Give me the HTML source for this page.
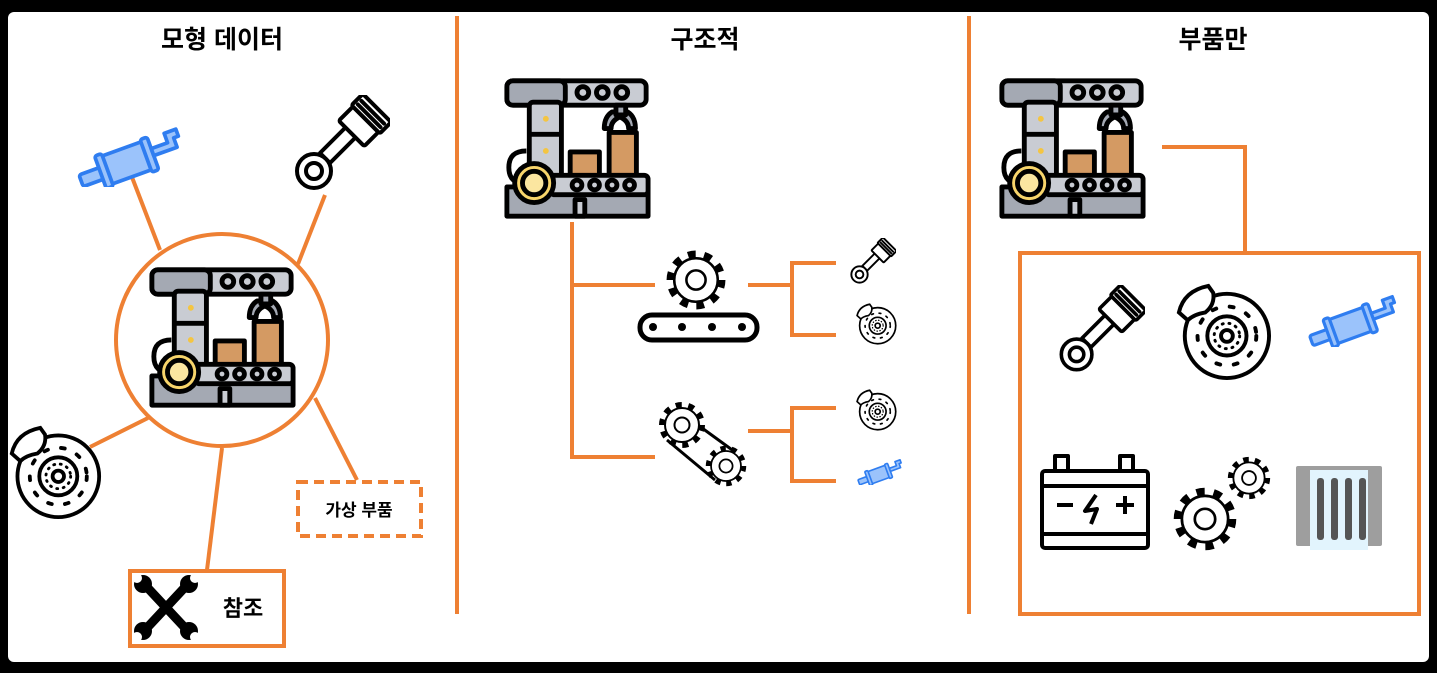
<!DOCTYPE html>
<html><head><meta charset="utf-8"><style>
html,body{margin:0;padding:0;background:#000;}
body{width:1437px;height:673px;overflow:hidden;position:relative;font-family:"Liberation Sans","Noto Sans CJK KR",sans-serif;}
svg{position:absolute;left:0;top:0;}
</style></head><body>
<svg width="1437" height="673" viewBox="0 0 1437 673" xmlns="http://www.w3.org/2000/svg">
<defs>
<symbol id="robot" viewBox="6 9 152 146">
 <g stroke="#000" stroke-width="5" stroke-linejoin="round">
  <path d="M55 40 q-15 0 -15 15 q0 15 15 15" fill="none"/>
  <path d="M30 85 q-18 0 -18 17 q0 17 18 17" fill="none"/>
  <path d="M118 45 q-8 5 -8 17 l7 0 q0-8 9-12 q9 4 9 12 l7 0 q0-12 -8-17z" fill="#a4a9b3"/>
  <rect x="10" y="13" width="143" height="25" rx="6" fill="#c9ccd3"/>
  <rect x="10" y="13" width="60" height="25" rx="6" fill="#a4a9b3"/>
  <circle cx="88" cy="25" r="6" fill="#c9ccd3"/><circle cx="108" cy="25" r="6" fill="#c9ccd3"/><circle cx="128" cy="25" r="6" fill="#c9ccd3"/>
  <rect x="122" y="38" width="10" height="10" fill="#a4a9b3"/>
  <rect x="33" y="35" width="33" height="85" rx="4" fill="#c9ccd3"/>
  <line x1="33" y1="68" x2="66" y2="68"/>
  <rect x="75" y="86" width="30" height="26" fill="#d49a63"/>
  <rect x="115" y="66" width="28" height="46" fill="#d49a63"/>
  <rect x="10" y="122" width="145" height="30" fill="#a4a9b3"/>
  <rect x="55" y="110" width="100" height="20" rx="4" fill="#c9ccd3"/>
  <circle cx="82" cy="120" r="5" fill="#c9ccd3"/><circle cx="100" cy="120" r="5" fill="#c9ccd3"/><circle cx="118" cy="120" r="5" fill="#c9ccd3"/><circle cx="136" cy="120" r="5" fill="#c9ccd3"/>
  <circle cx="38" cy="118" r="20" fill="#f8d56b"/>
  <circle cx="38" cy="118" r="12" fill="#fbe6a0"/>
  <rect x="80" y="135" width="10" height="17" fill="#c9ccd3"/>
 </g>
 <circle cx="50" cy="52" r="3" fill="#f4c542"/><circle cx="50" cy="85" r="3" fill="#f4c542"/>
</symbol>
<symbol id="piston" viewBox="0 0 100 100">
 <g fill="#fff" stroke="#000" stroke-width="4" stroke-linejoin="round" stroke-linecap="round">
  <path d="M30 58 L56 32 L66 42 L40 68 Z"/>
  <circle cx="24" cy="76" r="17"/><circle cx="24" cy="76" r="8"/>
  <g transform="rotate(45 70 30)">
   <rect x="52" y="22" width="36" height="20" rx="2"/>
   <rect x="50" y="6" width="40" height="16" rx="2"/>
   <line x1="54" y1="12" x2="86" y2="12"/><line x1="54" y1="17" x2="86" y2="17"/>
  </g>
 </g>
</symbol>
<symbol id="disc" viewBox="0 0 100 100">
 <g fill="none" stroke="#000" stroke-width="4" stroke-linecap="round">
  <circle cx="54" cy="54" r="43"/>
  <circle cx="54" cy="54" r="20"/>
  <circle cx="54" cy="54" r="6"/>
  <circle cx="54" cy="54" r="30" stroke-dasharray="4 14" stroke-width="4"/>
  <circle cx="54" cy="54" r="13" stroke-dasharray="1 6" stroke-width="3"/>
  <path d="M5 30 Q10 8 35 3 L40 10 Q42 22 32 30 Q20 32 14 38 Z" fill="#fff"/>
 </g>
</symbol>
<symbol id="muffler" viewBox="0 0 100 50">
 <g transform="rotate(-20 50 25)" stroke="#2f7df0" stroke-width="3" stroke-linejoin="round" fill="#9bc3fb">
  <rect x="8" y="26" width="22" height="10" rx="2"/>
  <rect x="28" y="18" width="40" height="24" rx="3"/>
  <rect x="25" y="16" width="6" height="28" rx="2"/>
  <rect x="64" y="16" width="6" height="28" rx="2"/>
  <path d="M70 26 h14 v-8 h10 v6 h-4 v8 h-20 z"/>
 </g>
</symbol>
<symbol id="gear" viewBox="0 0 100 100">
 <circle cx="50" cy="50" r="40" fill="none" stroke="#000" stroke-width="12" stroke-dasharray="12 13.1"/>
 <circle cx="50" cy="50" r="34" fill="#fff" stroke="#000" stroke-width="4"/>
 <circle cx="50" cy="50" r="15" fill="#fff" stroke="#000" stroke-width="4"/>
</symbol>
</defs>

<rect x="8" y="12" width="1421" height="650" rx="6" fill="#fff"/>

<g font-weight="bold" font-size="25" text-anchor="middle" fill="#000">
<text x="222" y="48">모형 데이터</text>
<text x="705" y="48">구조적</text>
<text x="1213" y="48">부품만</text>
</g>

<g stroke="#ee8033" stroke-width="4" fill="none">
<line x1="457" y1="16" x2="457" y2="614"/>
<line x1="969" y1="16" x2="969" y2="614"/>
<circle cx="222" cy="340" r="106"/>
<line x1="160" y1="250" x2="130" y2="172"/>
<line x1="298" y1="264" x2="325" y2="195"/>
<line x1="148" y1="418" x2="90" y2="447"/>
<line x1="222" y1="448" x2="207" y2="570"/>
<line x1="315" y1="398" x2="357" y2="480"/>
<rect x="298" y="482" width="123" height="54" stroke-dasharray="10 6"/>
<rect x="130" y="571" width="154" height="75"/>
<polyline points="572,222 572,457 655,457"/>
<line x1="572" y1="285" x2="655" y2="285"/>
<line x1="748" y1="285" x2="792" y2="285"/>
<polyline points="836,263 792,263 792,335 836,335"/>
<line x1="748" y1="431" x2="792" y2="431"/>
<polyline points="836,408 792,408 792,481 836,481"/>
<polyline points="1162,147 1245,147 1245,253"/>
<rect x="1020" y="253" width="399" height="361"/>
</g>

<g font-weight="bold" fill="#000">
<text x="359" y="516" font-size="17" text-anchor="middle">가상 부품</text>
<text x="243" y="616" font-size="22" text-anchor="middle">참조</text>
</g>

<!-- wrench -->
<g stroke="#000" stroke-width="9" stroke-linecap="round">
<line x1="145" y1="585" x2="187" y2="630"/>
<line x1="187" y1="585" x2="145" y2="630"/>
</g>
<g fill="#000"><circle cx="143" cy="584" r="9"/><circle cx="189" cy="584" r="9"/><circle cx="143" cy="631" r="9"/><circle cx="189" cy="631" r="9"/></g>
<g fill="#fff"><circle cx="137" cy="578" r="5"/><circle cx="195" cy="578" r="5"/><circle cx="137" cy="637" r="5"/><circle cx="195" cy="637" r="5"/></g>

<use href="#robot" x="148" y="264" width="148" height="146"/>
<use href="#robot" x="503" y="75" width="148" height="146"/>
<use href="#robot" x="998" y="75" width="148" height="146"/>

<use href="#muffler" x="65" y="125" width="125" height="62"/>
<use href="#piston" x="290" y="95" width="100" height="100"/>
<use href="#disc" x="7" y="425" width="95" height="95"/>

<!-- gear + conveyor -->
<use href="#gear" x="664" y="248" width="64" height="64"/>
<rect x="640" y="315" width="117" height="25" rx="12" fill="#fff" stroke="#000" stroke-width="5"/>
<g fill="#000"><circle cx="653" cy="327" r="4"/><circle cx="682" cy="327" r="4"/><circle cx="712" cy="327" r="4"/><circle cx="742" cy="327" r="4"/></g>
<!-- gears with belt -->
<g stroke="#000" stroke-width="3"><line x1="680" y1="412" x2="735" y2="452"/><line x1="667" y1="440" x2="715" y2="480"/></g>
<use href="#gear" x="657" y="400" width="50" height="50"/>
<use href="#gear" x="704" y="444" width="44" height="44"/>

<use href="#piston" x="848" y="238" width="48" height="48"/>
<use href="#disc" x="855" y="303" width="42" height="42"/>
<use href="#disc" x="855" y="389" width="42" height="42"/>
<use href="#muffler" x="852" y="458" width="54" height="27"/>

<use href="#piston" x="1055" y="285" width="90" height="92"/>
<use href="#disc" x="1170" y="283" width="106" height="98"/>
<use href="#muffler" x="1298" y="292" width="106" height="55"/>

<!-- battery -->
<g fill="#fff" stroke="#000" stroke-width="4" stroke-linejoin="round">
<rect x="1055" y="456" width="13" height="15"/><rect x="1120" y="456" width="13" height="15"/>
<rect x="1042" y="471" width="106" height="77" rx="3"/>
<line x1="1042" y1="486" x2="1148" y2="486"/><line x1="1042" y1="534" x2="1148" y2="534"/>
<line x1="1057" y1="505" x2="1073" y2="505"/><line x1="1116" y1="505" x2="1134" y2="505"/><line x1="1125" y1="496" x2="1125" y2="514"/>
<path d="M1096 495 L1085 511 L1097 509 L1091 524" fill="none"/>
</g>
<use href="#gear" x="1171" y="485" width="68" height="68"/>
<use href="#gear" x="1226" y="455" width="46" height="46"/>
<!-- radiator -->
<rect x="1296" y="466" width="86" height="80" fill="#9e9e9e" rx="2"/>
<rect x="1310" y="470" width="58" height="80" fill="#e2f4fd"/>
<g fill="#555"><rect x="1317" y="478" width="7" height="62" rx="3"/><rect x="1331" y="478" width="7" height="62" rx="3"/><rect x="1345" y="478" width="7" height="62" rx="3"/><rect x="1359" y="478" width="7" height="62" rx="3"/></g>
</svg>
</body></html>
